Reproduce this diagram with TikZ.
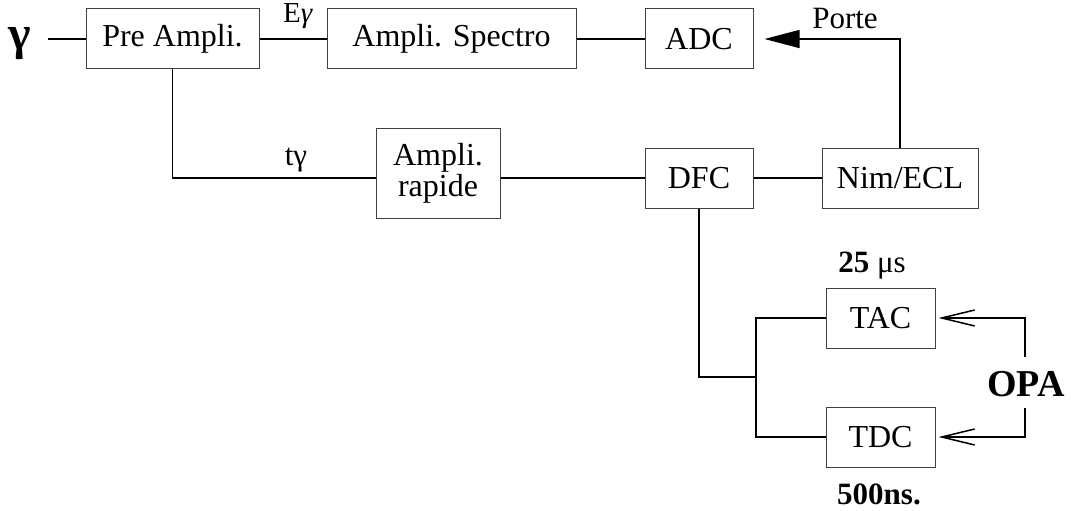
\documentclass[tikz,border=0pt]{standalone}
\usepackage{fontspec}
\setmainfont{Liberation Serif}
\usetikzlibrary{arrows.meta,calc}
\begin{document}
\begin{tikzpicture}[x=1pt,y=-1pt,
  blk/.style={draw=black!75,line width=1pt,inner sep=0pt,align=center,
    font=\fontsize{32}{32}\selectfont},
  lbl/.style={inner sep=0pt,font=\fontsize{31}{31}\selectfont},
  bold/.style={inner sep=0pt,font=\fontsize{31}{31}\selectfont\bfseries},
  wire/.style={line width=1.5pt},
  fillarrow/.style={-{Triangle[length=35pt,width=18pt]}},
  openarrow/.style={-{Straight Barb[length=33pt,width=16pt,line width=1.5pt]}}]
\useasboundingbox (0,0) rectangle (1071,511);
% boxes
\node[blk,minimum width=173pt,minimum height=60pt] (pre) at (172.5,39) {Pre Ampli.};
\node[blk,minimum width=249pt,minimum height=60pt] (spec) at (451.5,39) {Ampli. Spectro};
\node[blk,minimum width=108pt,minimum height=60pt] (adc) at (699,39) {ADC};
\node[blk,minimum width=124pt,minimum height=90pt] (rap) at (438,173) {Ampli.\\[-1pt]rapide};
\node[blk,minimum width=108pt,minimum height=60pt] (dfc) at (699,178) {DFC};
\node[blk,minimum width=156pt,minimum height=60pt] (nim) at (900,178) {Nim/ECL};
\node[blk,minimum width=109pt,minimum height=60pt] (tac) at (880.5,318) {TAC};
\node[blk,minimum width=109pt,minimum height=60pt] (tdc) at (880.5,437) {TDC};
% labels
\node[inner sep=0pt,anchor=base,font=\fontsize{48}{48}\selectfont\bfseries] (gam) at (20,49) {γ};
\node[inner sep=0pt,anchor=base,font=\fontsize{29}{29}\selectfont] (eg) at (298,23) {E\textit{γ}};
\node[lbl] (tg) at (296,160) {tγ};
\node[lbl] (porte) at (845,19) {Porte};
\node[bold] (mus) at (872,266) {25 \mdseries μs};
\node[bold] (ns) at (879,494) {500ns.};
\node[inner sep=0pt,font=\fontsize{38}{38}\selectfont\bfseries] (opa) at (1026,384) {OPA};
% coordinates
\coordinate (g) at (48,39);
\coordinate (j) at (756,377);
\coordinate (o1) at (1025,357);
\coordinate (o2) at (1025,408);
% wires
\draw[wire] (g) -- (pre.west);
\draw[wire] (pre.east) -- (spec.west);
\draw[wire] (spec.east) -- (adc.west);
\draw[wire,fillarrow,shorten >=11pt] (nim.north) |- (adc.east);
\draw[wire] (pre.south) |- (rap.west |- dfc.west);
\draw[wire] (rap.east |- dfc.west) -- (dfc.west);
\draw[wire] (dfc.east) -- (nim.west);
\draw[wire] (dfc.south) |- (j);
\draw[wire] (tac.west) -| (j) |- (tdc.west);
\draw[wire,openarrow,shorten >=3pt] (o1) |- (tac.east);
\draw[wire,openarrow,shorten >=3pt] (o2) |- (tdc.east);
\end{tikzpicture}
\end{document}
